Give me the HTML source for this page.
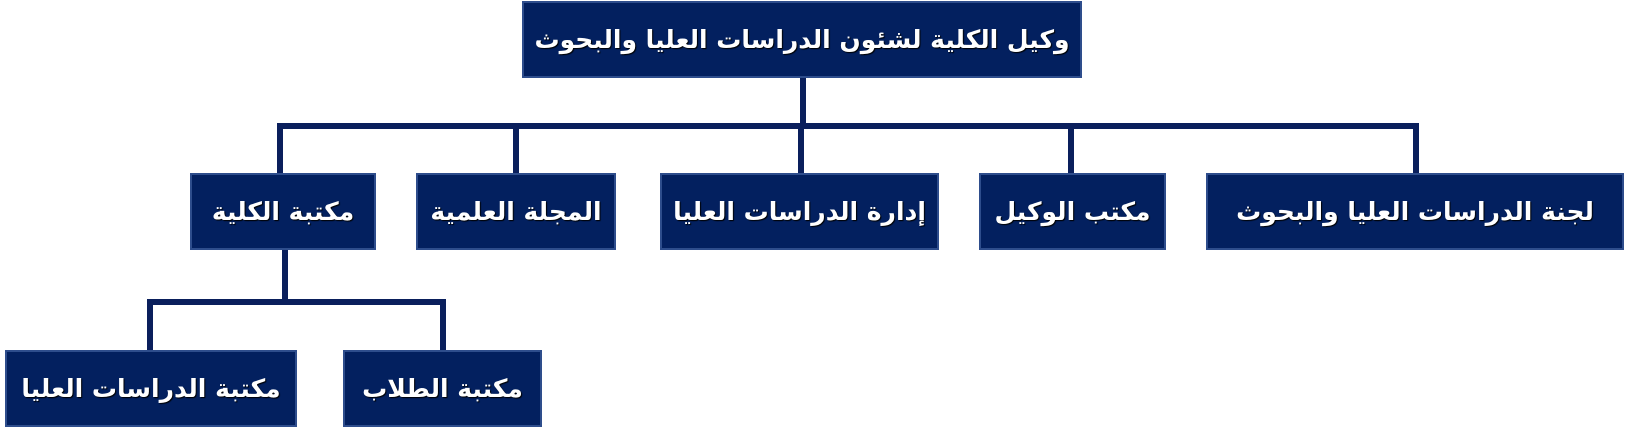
<!DOCTYPE html>
<html><head><meta charset="utf-8"><style>
html,body{margin:0;padding:0;background:#fff;width:1625px;height:434px;overflow:hidden;position:relative}
.b{position:absolute;background:#03205f;border:2px solid #2e4d8c;box-sizing:border-box;color:#fff;display:flex;align-items:center;justify-content:center;font-family:"DejaVu Sans","Liberation Sans",sans-serif;font-weight:bold;font-size:25px;direction:rtl;white-space:nowrap;text-shadow:1px 1px 1px #000}
.l{position:absolute;background:#0a1f5c}
</style></head><body>
<div class="l" style="left:800px;top:76px;width:6px;height:52px"></div>
<div class="l" style="left:277px;top:123px;width:1142px;height:6px"></div>
<div class="l" style="left:277px;top:123px;width:6px;height:52px"></div>
<div class="l" style="left:513px;top:123px;width:6px;height:52px"></div>
<div class="l" style="left:798px;top:123px;width:6px;height:52px"></div>
<div class="l" style="left:1068px;top:123px;width:6px;height:52px"></div>
<div class="l" style="left:1413px;top:123px;width:6px;height:52px"></div>
<div class="l" style="left:282px;top:248px;width:6px;height:56px"></div>
<div class="l" style="left:147px;top:299px;width:299px;height:6px"></div>
<div class="l" style="left:147px;top:299px;width:6px;height:53px"></div>
<div class="l" style="left:440px;top:299px;width:6px;height:53px"></div>

<div class="b" style="left:522px;top:1px;width:560px;height:77px">وكيل الكلية لشئون الدراسات العليا والبحوث</div>
<div class="b" style="left:190px;top:173px;width:186px;height:77px">مكتبة الكلية</div>
<div class="b" style="left:416px;top:173px;width:200px;height:77px">المجلة العلمية</div>
<div class="b" style="left:660px;top:173px;width:279px;height:77px">إدارة الدراسات العليا</div>
<div class="b" style="left:979px;top:173px;width:187px;height:77px">مكتب الوكيل</div>
<div class="b" style="left:1206px;top:173px;width:418px;height:77px">لجنة الدراسات العليا والبحوث</div>
<div class="b" style="left:5px;top:350px;width:292px;height:77px">مكتبة الدراسات العليا</div>
<div class="b" style="left:343px;top:350px;width:199px;height:77px">مكتبة الطلاب</div>
</body></html>
